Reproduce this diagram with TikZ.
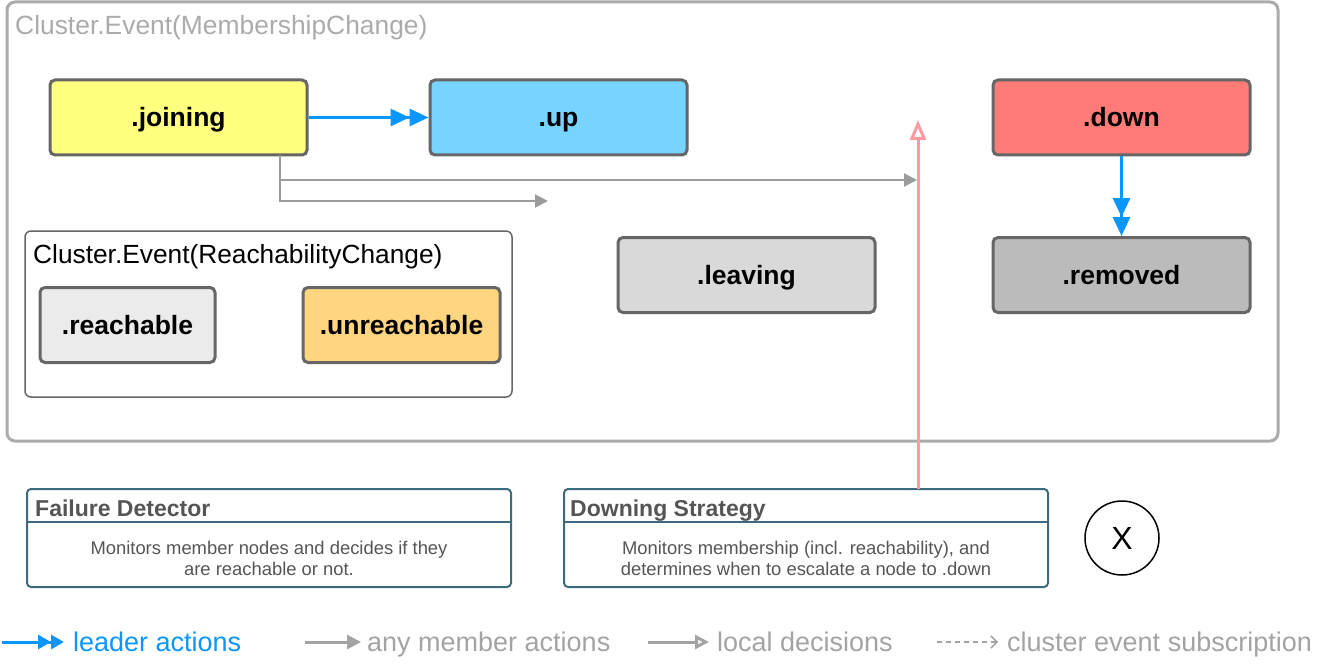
\documentclass[tikz,border=0pt]{standalone}
\usepackage{fontspec}
\setmainfont{Liberation Sans}
\usetikzlibrary{arrows.meta,positioning}

\definecolor{framegray}{HTML}{ABABAB}
\definecolor{stateborder}{HTML}{666666}
\definecolor{joinyellow}{HTML}{FFFF80}
\definecolor{upblue}{HTML}{77D4FF}
\definecolor{downred}{HTML}{FF7B77}
\definecolor{leavegray}{HTML}{D9D9D9}
\definecolor{removegray}{HTML}{BBBBBB}
\definecolor{reachgray}{HTML}{EBEBEB}
\definecolor{unreachorange}{HTML}{FFD580}
\definecolor{leaderblue}{HTML}{0A96FF}
\definecolor{membergray}{HTML}{9B9B9B}
\definecolor{downpink}{HTML}{FF9AA2}
\definecolor{infoborder}{HTML}{3E6A7F}
\definecolor{infotext}{HTML}{555555}
\definecolor{legendgray}{HTML}{A3A3A3}

\begin{document}
\begin{tikzpicture}[x=1pt, y=-1pt,
    state/.style={draw=stateborder, line width=3pt, rounded corners=5pt,
        minimum width=257pt, minimum height=75pt, text height=18pt, text depth=0pt,
        font=\fontsize{26.5}{30}\selectfont\bfseries},
    infobox/.style={draw=infoborder, line width=2pt, rounded corners=4pt,
        minimum width=484pt, minimum height=98pt},
    infotitle/.style={anchor=north west, inner sep=0pt, text=infotext,
        font=\fontsize{23}{27}\selectfont\bfseries},
    infobody/.style={align=center, text=infotext,
        font=\fontsize{18.4}{21}\selectfont},
    legendtext/.style={anchor=base west, inner sep=0pt, text=legendgray,
        font=\fontsize{27}{30}\selectfont},
    leader/.style={draw=leaderblue, line width=3pt,
        -{Triangle[length=19pt,width=17pt]Triangle[length=19pt,width=17pt]}},
    member/.style={draw=membergray, line width=2pt,
        -{Triangle[length=13pt,width=13pt]}},
    local/.style={draw=downpink, line width=3pt,
        -{Triangle[open,length=20pt,width=16pt]}}]

    \useasboundingbox (0,0) rectangle (1323,666);

    % membership change frame
    \node (mship) [draw=framegray, line width=3pt, rounded corners=8pt,
        minimum width=1271pt, minimum height=439pt] at (642.5,221.5) {};
    \node (mshiptitle) [anchor=north west, inner sep=0pt, text=framegray,
        font=\fontsize{26.4}{30}\selectfont] at (15,15) {Cluster.Event(MembershipChange)};

    \node (joining) [state, fill=joinyellow] at (178.5,117.5) {.joining};
    \node (up) [state, fill=upblue] at (558.5,117.5) {.up};
    \node (down) [state, fill=downred] at (1121.5,117.5) {.down};
    \node (leaving) [state, fill=leavegray] at (746.5,275) {.leaving};
    \node (removed) [state, fill=removegray] at (1121.5,275) {.removed};

    % reachability change frame
    \node (reach) [draw=stateborder, line width=1.5pt, rounded corners=6pt,
        minimum width=487pt, minimum height=166pt] at (268.5,314) {};
    \node (reachtitle) [anchor=north west, inner sep=0pt,
        font=\fontsize{26.3}{30}\selectfont] at (33,244) {Cluster.Event(ReachabilityChange)};
    \node (reachable) [state, fill=reachgray, minimum width=175pt] at (127.5,325) {.reachable};
    \node (unreachable) [state, fill=unreachorange, minimum width=197pt] at (401.5,325) {.unreachable};

    % failure detector
    \node (fd) [infobox] at (269,538) {};
    \node (fdtitle) [infotitle] at (35,500) {Failure Detector};
    \draw[infoborder, line width=2pt] (fd.west |- 0,522) -- (fd.east |- 0,522);
    \node (fdbody) [infobody] at (269,558) {Monitors member nodes and decides if they\\are reachable or not.};

    % downing strategy
    \node (ds) [infobox] at (806,538) {};
    \node (dstitle) [infotitle] at (570,500) {Downing Strategy};
    \draw[infoborder, line width=2pt] (ds.west |- 0,522) -- (ds.east |- 0,522);
    \node (dsbody) [infobody] at (806,558) {Monitors membership (incl. reachability), and\\determines when to escalate a node to .down};

    \node (x) [draw, circle, line width=1.5pt, minimum size=74pt,
        font=\fontsize{32}{36}\selectfont] at (1122,538) {X};

    % connectors
    \coordinate (joinout) at (280,155);
    \coordinate (joinbranch) at (280,180);
    \coordinate (dsout) at (918,489);
    \coordinate (dsin) at (918,120);
    \coordinate (memberend) at (917,180);
    \coordinate (leavingend) at (548,201);

    \draw[leader] (joining) -- (up);
    \draw[leader] (down) -- (removed);
    \draw[member] (joinout) |- (memberend);
    \draw[member] (joinbranch) |- (leavingend);
    \draw[local] (dsout) -- (dsin);

    % legend
    \coordinate (l1a) at (2,642);   \coordinate (l1b) at (64,642);
    \coordinate (l2a) at (305,642); \coordinate (l2b) at (361,642);
    \coordinate (l3a) at (648,642); \coordinate (l3b) at (709,642);
    \coordinate (l4a) at (937,642); \coordinate (l4b) at (998,642);

    \draw[leader, -{Triangle[length=13pt,width=14pt]Triangle[length=13pt,width=14pt]}] (l1a) -- (l1b);
    \node (l1text) [legendtext, text=leaderblue] at (73,651) {leader actions};
    \draw[draw=legendgray, line width=3pt, -{Triangle[length=14pt,width=14pt]}] (l2a) -- (l2b);
    \node (l2text) [legendtext] at (367,651) {any member actions};
    \draw[draw=legendgray, line width=3pt, -{Triangle[open,length=14pt,width=14pt]}] (l3a) -- (l3b);
    \node (l3text) [legendtext] at (717,651) {local decisions};
    \draw[draw=legendgray, line width=1.5pt, dash pattern=on 5pt off 4pt,
        -{Straight Barb[length=6pt,width=12pt]}] (l4a) -- (l4b);
    \node (l4text) [legendtext] at (1007,651) {cluster event subscription};
\end{tikzpicture}
\end{document}
